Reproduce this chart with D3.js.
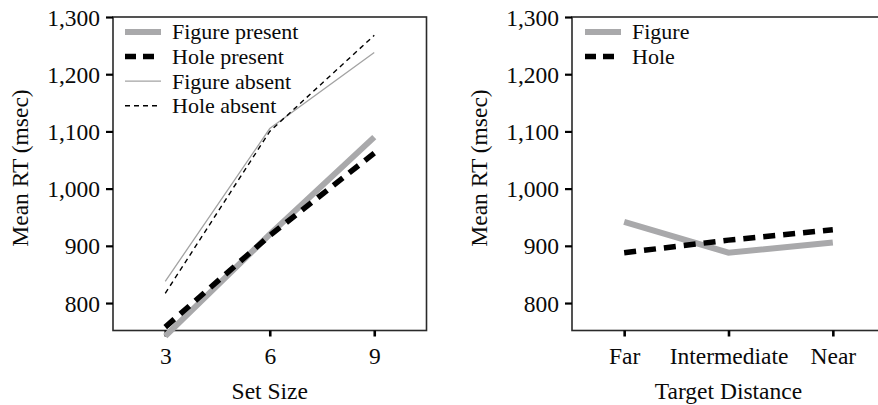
<!DOCTYPE html>
<html><head><meta charset="utf-8">
<script src="https://cdn.jsdelivr.net/npm/d3@7/dist/d3.min.js"></script>
<style>
body{margin:0;background:#fff;}
text{font-family:"Liberation Serif","Times New Roman",serif;fill:#0a0a0a;}
</style></head>
<body><svg id="c" width="878" height="405"></svg>
<script>
// ---- data ----
const setSizes = [3, 6, 9];
const figurePresent = [742, 920, 1090];
const holePresent = [758, 918, 1062];
const figureAbsent = [838, 1105, 1238];
const holeAbsent = [817, 1100, 1268];
const distances = ["Far", "Intermediate", "Near"];
const figureDist = [942, 888, 906];
const holeDist = [888, 910, 928];
const yTicks = [800, 900, 1000, 1100, 1200, 1300];

const svg = d3.select("#c");
const FS = 23.5;
const plotTop = 17, plotBottom = 330.5;
const y = d3.scaleLinear().domain([752, 1300]).range([plotBottom, plotTop]);

const styles = {
  thickGray: {stroke: "#a9a9ab", width: 6, dash: null},
  thickDash: {stroke: "#000", width: 5.5, dash: "12,8"},
  thinGray: {stroke: "#a3a3a3", width: 1.3, dash: null},
  thinDash: {stroke: "#000", width: 1.4, dash: "5,4"}
};

function panel(x0, x1, x, tickVals, tickFmt, xTitle, series, legendX) {
  const g = svg.append("g");
  g.append("rect").attr("x", x0).attr("y", plotTop).attr("width", x1 - x0).attr("height", plotBottom - plotTop)
    .attr("fill", "none").attr("stroke", "#2a2a2a").attr("stroke-width", 1.6);
  const ya = d3.axisLeft(y).tickValues(yTicks).tickFormat(d3.format(",")).tickSize(7).tickPadding(6);
  const gy = g.append("g").attr("transform", `translate(${x0},0)`).call(ya);
  gy.select(".domain").remove();
  gy.selectAll(".tick line").attr("stroke", "#000").attr("stroke-width", 2.2);
  gy.selectAll(".tick text").attr("font-size", FS).attr("font-family", "Liberation Serif").attr("fill", "#0a0a0a").attr("dy", "0.34em");
  const xa = d3.axisBottom(x).tickValues(tickVals).tickFormat(tickFmt).tickSize(6).tickPadding(11);
  const gx = g.append("g").attr("transform", `translate(0,${plotBottom})`).call(xa);
  gx.select(".domain").remove();
  gx.selectAll(".tick line").attr("stroke", "#000").attr("stroke-width", 2.6);
  gx.selectAll(".tick text").attr("font-size", FS).attr("font-family", "Liberation Serif").attr("fill", "#0a0a0a");
  g.append("text").attr("x", (x0 + x1) / 2).attr("y", 399).attr("text-anchor", "middle")
    .attr("font-size", FS).text(xTitle);
  g.append("text").attr("transform", `translate(${x0 - 85},${168}) rotate(-90)`).attr("text-anchor", "middle")
    .attr("font-size", FS).text("Mean RT (msec)");
  const line = d3.line().x(d => x(d[0])).y(d => y(d[1]));
  series.forEach(s => {
    const st = styles[s.style];
    g.append("path").datum(s.xs.map((v, i) => [v, s.vals[i]])).attr("d", line)
      .attr("fill", "none").attr("stroke", st.stroke).attr("stroke-width", st.width)
      .attr("stroke-dasharray", st.dash);
  });
  series.forEach((s, i) => {
    const st = styles[s.style];
    const ly = 32 + i * 24.6;
    g.append("line").attr("x1", legendX).attr("x2", legendX + 36).attr("y1", ly).attr("y2", ly)
      .attr("stroke", st.stroke).attr("stroke-width", st.width).attr("stroke-dasharray", st.dash === "12,8" ? "11,7" : st.dash);
    g.append("text").attr("x", legendX + 47).attr("y", ly).attr("dy", "0.34em").attr("font-size", 22).text(s.name);
  });
}

const xL = d3.scaleLinear().domain([1.5, 10.5]).range([113, 426.5]);
panel(113, 426.5, xL, setSizes, d3.format("d"), "Set Size", [
  {name: "Figure present", xs: setSizes, vals: figurePresent, style: "thickGray"},
  {name: "Hole present", xs: setSizes, vals: holePresent, style: "thickDash"},
  {name: "Figure absent", xs: setSizes, vals: figureAbsent, style: "thinGray"},
  {name: "Hole absent", xs: setSizes, vals: holeAbsent, style: "thinDash"}
], 125);

const xR = d3.scalePoint().domain(distances).range([572, 885]).padding(0.5);
panel(572, 885, xR, distances, d => d, "Target Distance", [
  {name: "Figure", xs: distances, vals: figureDist, style: "thickGray"},
  {name: "Hole", xs: distances, vals: holeDist, style: "thickDash"}
], 585);
</script></body></html>
